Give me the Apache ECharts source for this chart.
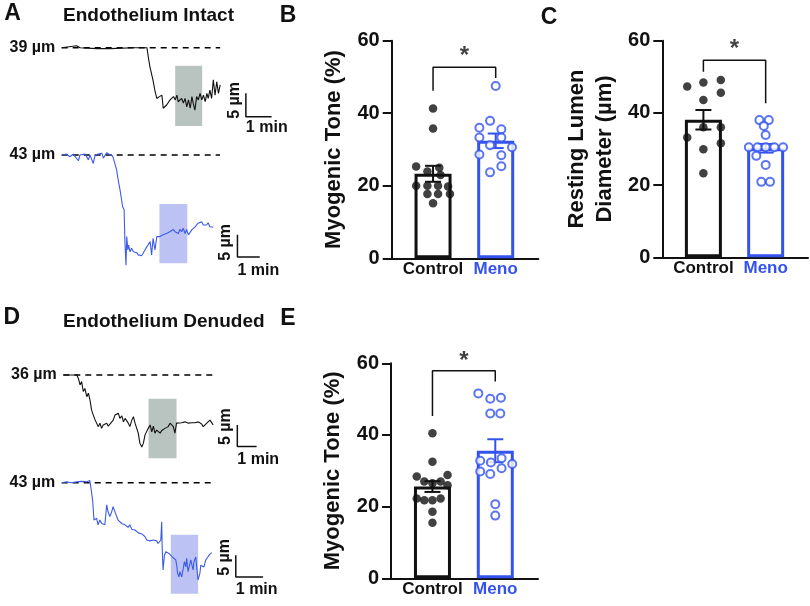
<!DOCTYPE html>
<html><head><meta charset="utf-8">
<script src="https://cdn.jsdelivr.net/npm/echarts@6/dist/echarts.min.js"></script>
<style>html,body{margin:0;padding:0;background:#fff}#c{width:810px;height:606px}</style>
</head><body><div id="c"></div>
<script>
const FONT = '"Liberation Sans", Arial, Helvetica, sans-serif';
const BLACK = '#111111';
const BLUE = '#3352ee';
const TRACE_BLUE = '#3d5be6';
const GRAY_RECT = '#b9c3c0';
const BLUE_RECT = '#bcc2f3';

// ---- Diameter traces: [time (s), diameter (µm)] ----
const traceIntactControl = [[0,39.0],[35,39.4],[43,39.0],[82,38.8],[113,38.8],[167,39.0],[199,39.0],[202,37.1],[206,34.9],[213,32.1],[218,29.6],[222,28.1],[228,28.5],[234,28.8],[237,26.0],[245,26.7],[253,27.8],[257,27.4],[261,28.5],[265,27.8],[269,28.8],[272,27.4],[280,28.1],[284,27.1],[288,28.1],[292,26.3],[296,27.8],[300,26.0],[304,28.5],[307,27.1],[311,25.6],[315,28.5],[319,27.8],[323,29.2],[327,27.8],[331,28.8],[335,27.4],[339,29.2],[342,28.1],[346,29.9],[350,28.1],[354,32.1],[358,28.8],[362,31.7],[366,29.2],[370,31.0]];
const traceIntactMeno = [[0,43.0],[13,43.2],[22,42.6],[31,43.2],[45,41.7],[49,43.0],[63,43.2],[72,41.9],[76,43.0],[85,41.1],[90,43.0],[98,43.2],[108,43.4],[112,42.3],[121,43.5],[130,43.0],[137,42.8],[143,41.1],[148,39.6],[152,37.4],[157,35.2],[161,34.8],[164,31.4],[168,30.7],[170,23.9],[173,18.3],[175,24.7],[178,21.7],[180,22.8],[184,21.3],[188,22.1],[193,21.3],[197,21.0],[202,21.1],[206,20.6],[211,20.8],[215,20.4],[220,21.1],[224,21.7],[229,22.4],[233,22.1],[238,23.6],[242,20.6],[246,24.3],[251,21.7],[256,24.7],[260,24.3],[264,24.7],[269,24.3],[273,25.1],[278,24.7],[282,25.4],[287,25.1],[291,25.8],[296,25.4],[300,26.3],[305,25.8],[309,26.2],[314,25.4],[318,26.3],[323,25.8],[327,26.6],[332,25.4],[336,26.3],[341,25.1],[345,24.8],[350,26.2],[354,26.6],[359,26.9],[363,26.6],[367,27.7],[372,27.5],[377,28.0],[381,27.3],[385,27.7],[390,27.3],[394,27.8],[399,26.9],[404,27.3],[408,26.8]];
const traceDenudedControl = [[0,36.0],[42,36.0],[47,35.2],[52,33.7],[57,34.5],[62,32.2],[67,32.9],[73,31.0],[78,31.8],[83,30.2],[88,27.9],[93,26.8],[99,25.6],[104,25.2],[109,24.1],[114,24.9],[119,23.7],[124,24.5],[130,24.1],[135,24.9],[140,24.2],[145,24.7],[155,25.6],[161,26.8],[166,26.4],[171,27.2],[176,26.0],[182,26.6],[187,25.2],[192,26.0],[197,25.6],[202,24.9],[207,24.1],[213,25.6],[218,26.4],[223,24.9],[228,24.5],[233,22.6],[238,20.3],[244,19.4],[249,20.3],[254,22.2],[259,22.6],[264,23.7],[270,24.5],[275,22.9],[280,24.2],[285,22.6],[290,23.3],[295,22.9],[301,22.6],[306,23.2],[311,22.9],[316,23.7],[321,23.3],[326,24.1],[332,24.9],[337,25.2],[342,24.1],[347,22.6],[352,24.9],[358,25.2],[368,25.0],[378,25.2],[389,24.9],[399,25.0],[409,25.0],[420,25.2],[430,24.7],[435,24.1],[446,24.9],[456,25.6],[466,24.5]];
const traceDenudedMeno = [[0,43.0],[11,43.2],[22,43.0],[33,43.2],[44,43.3],[55,43.2],[62,43.5],[66,43.2],[68,39.0],[71,34.4],[75,34.0],[77,34.8],[80,33.3],[84,34.4],[88,33.6],[91,34.0],[95,33.3],[99,37.9],[102,36.3],[106,35.2],[110,36.3],[113,37.5],[117,37.9],[121,35.2],[124,34.4],[128,34.8],[132,33.6],[135,34.0],[139,33.3],[143,33.6],[146,32.7],[150,33.3],[154,32.3],[157,32.7],[161,32.1],[165,32.3],[168,31.5],[172,31.7],[176,31.2],[179,30.9],[183,30.6],[187,29.8],[190,30.2],[194,29.6],[198,30.0],[201,29.8],[205,29.4],[209,29.6],[212,29.0],[216,28.6],[218,29.8],[220,34.0],[221,28.3],[223,22.9],[226,26.3],[229,27.1],[232,27.5],[236,26.7],[240,27.1],[243,25.9],[247,26.3],[251,25.2],[253,24.0],[255,22.1],[258,21.3],[260,22.5],[264,21.3],[267,21.7],[270,24.8],[273,23.6],[275,25.6],[278,22.5],[282,22.1],[284,25.2],[287,25.6],[289,22.9],[291,24.8],[295,25.9],[297,23.6],[300,20.6],[304,22.1],[306,24.0],[309,24.4],[313,23.6],[317,25.2],[320,24.8],[324,26.3],[328,25.9],[330,26.9]];

// baseline diameters (µm) and analysis windows [t0, t1] (s), window diameter extent
const baselines = [39, 43, 36, 43];
const baselineEnd = [370, 426, 465, 334];
const windows = [[265, 328, 35.1, 22.2], [263, 338, 32.0, 18.7], [265, 352, 30.5, 16.8], [240, 300, 31.0, 17.4]];
// scale bars: [t (s), top µm, label µm, bottom µm] ; 5 µm by 1 min
const scaleBars = [[430, 29.2, 27.7, 24.2], [473, 25.1, 23.4, 20.1], [541, 24.5, 24.1, 19.5], [383, 26.3, 25.8, 21.3]];
const minLabelGap = [2, 5, 4, 4];

// ---- Group data ----
const categories = ['Control', 'Meno'];
const yTicks = [0, 20, 40, 60];
// B: myogenic tone, intact  [jitter position, value]
const toneIntactControl = [[1,41.3],[1,35.8],[0.73,25.3],[1.1,25.0],[0.91,23.9],[1.12,23.0],[0.73,20.0],[0.91,20.0],[1.08,20.0],[1.24,19.8],[0.91,17.7],[1.08,17.7],[1.27,17.7],[1,15.2]];
const toneIntactMeno = [[2,47.5],[1.91,37.9],[1.74,36.0],[2.09,35.6],[1.74,33.3],[2.09,33.3],[1.91,31.2],[2.26,30.6],[1.74,28.6],[2.09,28.4],[2.09,25.4],[1.91,23.7]];
const toneIntactMean = [23.3, 32.4];
const toneIntactSem = [2.2, 2.0];
// C: resting lumen diameter
const diamControl = [[0.74,47.3],[1,48.4],[1.28,49.1],[1.28,45.6],[1,43.6],[1,36.0],[1.28,36.0],[0.74,33.2],[1.28,31.6],[1,29.9],[1,23.3]];
const diamMeno = [[1.9,38.0],[2.05,38.0],[1.97,36.4],[2,33.9],[1.73,30.5],[1.87,30.5],[2,30.5],[2.14,30.5],[2.28,30.5],[1.85,28.1],[2,25.6],[1.93,20.9],[2.07,20.9]];
const diamMean = [38.1, 30.2];
const diamSem = [2.7, 1.2];
// E: myogenic tone, denuded
const toneDenudedControl = [[1,40.5],[1,32.5],[0.75,28.4],[1.24,28.8],[0.87,27.0],[1.13,27.0],[1,26.5],[1.24,26.0],[0.75,22.3],[0.87,21.8],[1,21.8],[1.13,22.3],[1,18.6],[1,15.5]];
const toneDenudedMeno = [[1.73,51.6],[1.92,50.1],[2.09,50.4],[1.92,46.0],[2.08,46.0],[1.76,32.8],[1.93,32.3],[2.1,33.5],[2.27,31.9],[1.76,29.8],[1.92,29.1],[2.1,30.7],[2,20.7],[2,17.5]];
const toneDenudedMean = [25.6, 35.6];
const toneDenudedSem = [1.5, 3.2];
// significance brackets [[x,y]...] and star position
const bracketB = [[1,46.2],[1,52.7],[2,52.7],[2,49.7]];
const bracketC = [[1,51.4],[1,54.6],[2,54.6],[2,42.7]];
const bracketE = [[1,45.3],[1,57.9],[2,57.9],[2,54.9]];
const starB = [1.5, 55.6], starC = [1.5, 57.6], starE = [1.5, 60.6];

const chart = echarts.init(document.getElementById('c'));
const grids = [], xAxes = [], yAxes = [], series = [];

function txt(size) { return { fontFamily: FONT, fontWeight: 'bold', fontSize: size, color: BLACK }; }

// ---- trace panels ----
const traceCfg = [
  { data: traceIntactControl, color: BLACK, rect: GRAY_RECT, grid: { left: 61.7, top: 40, width: 230, height: 95 }, x: [0, 537], y: [20.26, 40.65] },
  { data: traceIntactMeno, color: TRACE_BLUE, rect: BLUE_RECT, grid: { left: 61.7, top: 145, width: 230, height: 130 }, x: [0, 619], y: [16.09, 45.24] },
  { data: traceDenudedControl, color: BLACK, rect: GRAY_RECT, grid: { left: 63.3, top: 365, width: 230, height: 100 }, x: [0, 715], y: [15.26, 38.3] },
  { data: traceDenudedMeno, color: TRACE_BLUE, rect: BLUE_RECT, grid: { left: 61.7, top: 470, width: 230, height: 130 }, x: [0, 506], y: [15.98, 45.93] }
];
traceCfg.forEach((c, i) => {
  grids.push(Object.assign({ outerBoundsMode: 'none' }, c.grid));
  xAxes.push({ gridIndex: i, type: 'value', min: c.x[0], max: c.x[1], show: false });
  yAxes.push({ gridIndex: i, type: 'value', min: c.y[0], max: c.y[1], show: false });
  const w = windows[i];
  series.push({
    type: 'line', xAxisIndex: i, yAxisIndex: i, z: 1, silent: true,
    symbol: 'circle', symbolSize: 1, itemStyle: { color: 'rgba(0,0,0,0)' },
    lineStyle: { color: '#000000', width: 1.5, type: [6, 5] },
    data: [
      { value: [0, baselines[i]], label: Object.assign({ show: true, position: 'left', distance: 6, formatter: baselines[i] + ' µm' }, txt(16)) },
      [baselineEnd[i], baselines[i]]
    ],
    markArea: { silent: true, itemStyle: { color: c.rect, opacity: 1 }, data: [[{ coord: [w[0], w[2]] }, { coord: [w[1], w[3]] }]] }
  });
  series.push({
    type: 'line', xAxisIndex: i, yAxisIndex: i, z: 3, silent: true, symbol: 'none',
    lineStyle: { color: c.color, width: 1.1 }, data: c.data
  });
  const s = scaleBars[i];
  series.push({
    type: 'line', xAxisIndex: i, yAxisIndex: i, z: 3, silent: true,
    symbol: 'circle', symbolSize: 1, itemStyle: { color: 'rgba(0,0,0,0)' },
    lineStyle: { color: BLACK, width: 1.5 },
    data: [
      [s[0], s[1]],
      { value: [s[0], s[2]], label: Object.assign({ show: true, position: 'left', distance: 11, rotate: 90, align: 'center', verticalAlign: 'middle', formatter: '5 µm' }, txt(16)) },
      { value: [s[0], s[3]], label: Object.assign({ show: true, position: 'bottom', distance: minLabelGap[i], align: 'left', verticalAlign: 'top', formatter: '1 min' }, txt(16)) },
      [s[0] + 60, s[3]]
    ]
  });
});

// ---- bar panels ----
const barCfg = [
  { grid: { left: 391.7, top: 40.7, width: 146.6, height: 217.6 }, name: 'Myogenic Tone (%)', ctrl: toneIntactControl, meno: toneIntactMeno, mean: toneIntactMean, sem: toneIntactSem, bracket: bracketB, star: starB, gap: 44 },
  { grid: { left: 662.3, top: 40.7, width: 145.7, height: 216.6 }, name: 'Resting Lumen\nDiameter (µm)', ctrl: diamControl, meno: diamMeno, mean: diamMean, sem: diamSem, bracket: bracketC, star: starC, gap: 43 },
  { grid: { left: 391, top: 363.3, width: 147, height: 215 }, name: 'Myogenic Tone (%)', ctrl: toneDenudedControl, meno: toneDenudedMeno, mean: toneDenudedMean, sem: toneDenudedSem, bracket: bracketE, star: starE, gap: 44 }
];
barCfg.forEach((c, k) => {
  const i = k + 4;
  grids.push(Object.assign({ outerBoundsMode: 'none' }, c.grid));
  xAxes.push({
    gridIndex: i, type: 'value', min: 0.34, max: 2.68,
    axisLine: { show: true, onZero: false, lineStyle: { color: BLACK, width: 2 } },
    axisTick: { show: false }, splitLine: { show: false },
    axisLabel: {
      customValues: [1, 2], margin: 3,
      formatter: v => (Math.round(v) === 1 ? '{c|' + categories[0] + '}' : '{m|' + categories[1] + '}'),
      rich: { c: Object.assign({}, txt(17)), m: Object.assign({}, txt(17), { color: BLUE }) }
    }
  });
  yAxes.push({
    gridIndex: i, type: 'value', min: 0, max: 60, interval: 20,
    axisLine: { show: true, lineStyle: { color: BLACK, width: 2 } },
    axisTick: { show: true, length: 9, lineStyle: { color: BLACK, width: 2 } },
    axisLabel: Object.assign({ margin: 12, formatter: v => (yTicks.indexOf(v) >= 0 ? String(v) : '') }, txt(20)),
    splitLine: { show: false },
    name: c.name, nameLocation: 'middle', nameGap: c.gap, nameRotate: 90, nameMoveOverlap: false,
    nameTextStyle: Object.assign({ lineHeight: 28, align: 'center' }, txt(22))
  });
  series.push({
    type: 'bar', xAxisIndex: i, yAxisIndex: i, z: 2, silent: true, barWidth: 37,
    itemStyle: { color: '#ffffff', borderWidth: 3 },
    data: [
      { value: [1, c.mean[0]], itemStyle: { borderColor: BLACK } },
      { value: [2, c.mean[1]], itemStyle: { borderColor: BLUE } }
    ]
  });
  series.push({
    type: 'custom', xAxisIndex: i, yAxisIndex: i, z: 4, silent: true,
    encode: { x: 0, y: [1, 2] },
    data: c.mean.map((m, j) => [j + 1, m - c.sem[j], m + c.sem[j], j]),
    renderItem: function (params, api) {
      const x = api.value(0);
      const lo = api.coord([x, api.value(1)]);
      const hi = api.coord([x, api.value(2)]);
      const col = api.value(3) === 0 ? BLACK : BLUE;
      const w = 8;
      const st = { stroke: col, lineWidth: 2 };
      return { type: 'group', children: [
        { type: 'line', shape: { x1: lo[0], y1: lo[1], x2: hi[0], y2: hi[1] }, style: st },
        { type: 'line', shape: { x1: hi[0] - w, y1: hi[1], x2: hi[0] + w, y2: hi[1] }, style: st },
        { type: 'line', shape: { x1: lo[0] - w, y1: lo[1], x2: lo[0] + w, y2: lo[1] }, style: st }
      ] };
    }
  });
  series.push({
    type: 'scatter', xAxisIndex: i, yAxisIndex: i, z: 5, silent: true,
    symbol: 'circle', symbolSize: 8.5, itemStyle: { color: BLACK }, data: c.ctrl
  });
  series.push({
    type: 'scatter', xAxisIndex: i, yAxisIndex: i, z: 5, silent: true,
    symbol: 'circle', symbolSize: 8, itemStyle: { color: '#ffffff', borderColor: BLUE, borderWidth: 2 }, data: c.meno
  });
  series.push({
    type: 'line', xAxisIndex: i, yAxisIndex: i, z: 3, silent: true, symbol: 'none',
    lineStyle: { color: BLACK, width: 1.5 }, data: c.bracket
  });
  series.push({
    type: 'scatter', xAxisIndex: i, yAxisIndex: i, z: 5, silent: true, clip: false,
    symbol: 'circle', symbolSize: 1, itemStyle: { color: 'rgba(0,0,0,0)' },
    label: Object.assign({ show: true, position: 'inside', formatter: '*' }, txt(24)),
    data: [c.star]
  });
});

function gtext(text, x, y, size, align) {
  return { type: 'text', x: x, y: y, silent: true,
    style: { text: text, font: 'bold ' + size + 'px ' + FONT, fill: BLACK, textAlign: align || 'center', textVerticalAlign: 'middle' } };
}

chart.setOption({
  animation: false,
  backgroundColor: '#ffffff',
  grid: grids, xAxis: xAxes, yAxis: yAxes, series: series,
  graphic: [
    gtext('A', 12.5, 14, 23), gtext('Endothelium Intact', 63, 16, 19, 'left'),
    gtext('B', 288, 16, 23), gtext('C', 549, 18, 23),
    gtext('D', 11.7, 318, 23), gtext('Endothelium Denuded', 63, 322, 19, 'left'),
    gtext('E', 288, 319, 23)
  ]
});
</script></body></html>
